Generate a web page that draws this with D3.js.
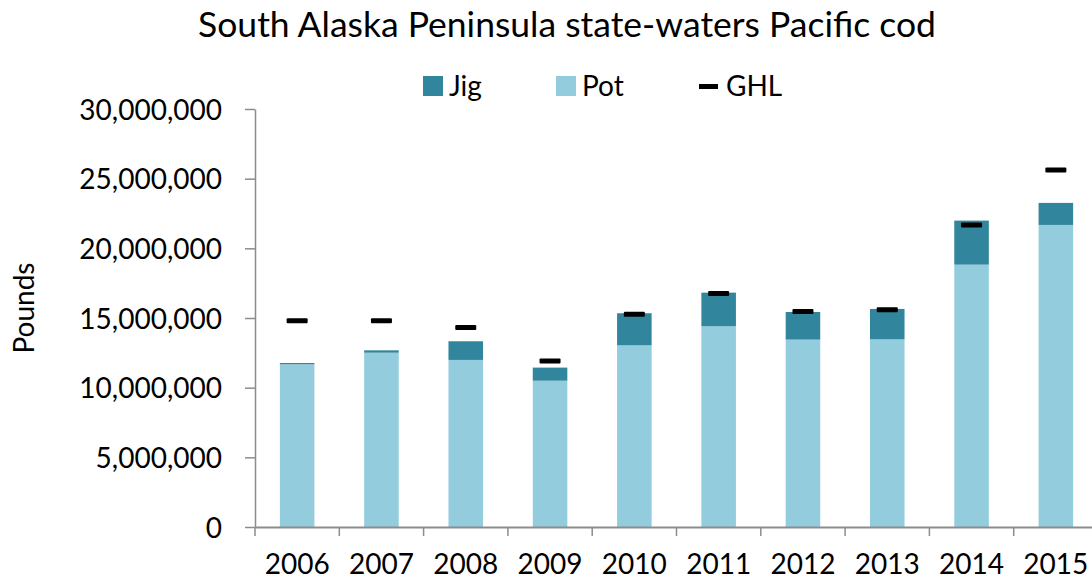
<!DOCTYPE html>
<html><head><meta charset="utf-8">
<script src="https://cdn.jsdelivr.net/npm/d3@7"></script>
<style>body{margin:0;background:#fff}svg{display:block}text{font-family:Lato,"Open Sans",sans-serif;fill:#000}</style>
</head><body><svg id="c" width="1092" height="580"></svg>
<script>
const years = ["2006","2007","2008","2009","2010","2011","2012","2013","2014","2015"];
const pot = [11680000,12510000,11990000,10500000,13040000,14410000,13450000,13470000,18830000,21680000];
const jig = [90000,170000,1340000,940000,2300000,2410000,1980000,2180000,3160000,1580000];
const ghl = [14810000,14810000,14310000,11920000,15270000,16750000,15460000,15600000,21680000,25630000];
const yTicks = [0,5000000,10000000,15000000,20000000,25000000,30000000];

const svg = d3.select("#c");
const L=255, R=1098, T=109, B=527;
const x = d3.scaleBand().domain(years).range([L,R]).paddingInner(0.59).paddingOuter(0.295);
const xb = d3.scaleBand().domain(years).range([L,R]);
const y = d3.scaleLinear().domain([0,30000000]).range([B,T]);
const cJig="#31859c", cPot="#93cddd", axisC="#8c8c8c";

svg.append("text").attr("x",567).attr("y",37).attr("text-anchor","middle").style("font-size","35.5px").text("South Alaska Peninsula state-waters Pacific cod");

// bars
const g = svg.append("g");
g.selectAll(".pot").data(years).join("rect").attr("x",d=>x(d)).attr("width",x.bandwidth())
 .attr("y",(d,i)=>y(pot[i])).attr("height",(d,i)=>B-y(pot[i])).attr("fill",cPot);
g.selectAll(".jig").data(years).join("rect").attr("x",d=>x(d)).attr("width",x.bandwidth())
 .attr("y",(d,i)=>y(pot[i]+jig[i])).attr("height",(d,i)=>y(pot[i])-y(pot[i]+jig[i])).attr("fill",cJig);
g.selectAll(".ghl").data(years).join("rect").attr("x",d=>xb(d)+xb.bandwidth()/2-10.5).attr("width",21)
 .attr("y",(d,i)=>y(ghl[i])-2.5).attr("height",5).attr("rx",1).attr("fill","#000");

// y axis
const ya = svg.append("g").attr("transform",`translate(${L},0)`)
 .call(d3.axisLeft(y).tickValues(yTicks).tickSize(10).tickSizeOuter(0).tickPadding(23).tickFormat(d3.format(",")));
ya.selectAll("path,line").attr("stroke",axisC).attr("stroke-width",1.5);
ya.selectAll("text").style("font-size","28px").attr("dy","0.36em");

// x axis
const xa = svg.append("g").attr("transform",`translate(0,${B})`)
 .call(d3.axisBottom(xb).tickSize(0).tickSizeOuter(0));
xa.select("path").attr("stroke",axisC).attr("stroke-width",2);
xa.selectAll("line").remove();
xa.selectAll("text").style("font-size","28px").attr("y",47).attr("dy",0);
svg.append("g").selectAll("line").data(years).join("line")
 .attr("x1",d=>xb(d)).attr("x2",d=>xb(d)).attr("y1",B).attr("y2",B+9).attr("stroke",axisC).attr("stroke-width",1.5);

// y title
svg.append("text").attr("transform","translate(34,308) rotate(-90)").attr("text-anchor","middle").style("font-size","28px").text("Pounds");

// legend
const leg = [{k:"Jig",c:cJig,x:423},{k:"Pot",c:cPot,x:556}];
leg.forEach(l=>{
  svg.append("rect").attr("x",l.x).attr("y",76).attr("width",20).attr("height",20).attr("fill",l.c);
  svg.append("text").attr("x",l.x+26).attr("y",96).style("font-size","28px").text(l.k);
});
svg.append("rect").attr("x",699).attr("y",84).attr("width",19).attr("height",5).attr("fill","#000");
svg.append("text").attr("x",726).attr("y",96).style("font-size","28px").text("GHL");
</script></body></html>
